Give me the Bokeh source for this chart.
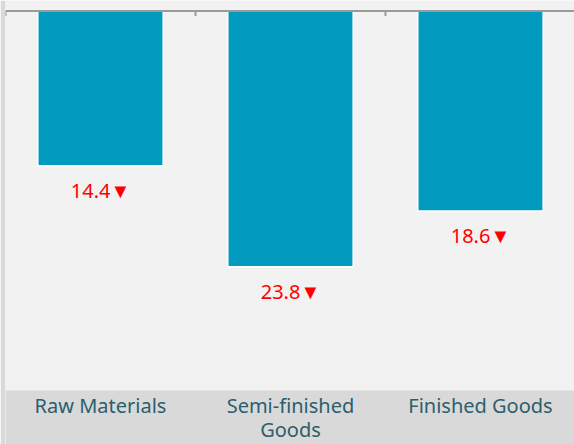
from bokeh.plotting import figure
from bokeh.models import Range1d, ColumnDataSource, Span, BoxAnnotation
from bokeh.embed import file_html
from bokeh.resources import INLINE

categories = ["Raw Materials", "Semi-finished Goods", "Finished Goods"]
tick_labels = ["Raw Materials", "Semi-finished\nGoods", "Finished Goods"]
values = [14.4, 23.8, 18.6]

y_top, y_plot_bottom, y_page_bottom = -0.98, 35.3, 40.33

xs = list(range(len(categories)))
labels = [f"{v}\u25BC" for v in values]
src = ColumnDataSource(dict(x=xs, value=values, label=labels, zero=[0] * len(values)))
cat_src = ColumnDataSource(dict(x=xs, y=[y_plot_bottom] * len(xs), name=tick_labels))

# category boundaries for the top axis ticks
bounds = [i - 0.5 for i in range(len(categories) + 1)]
tick_len = 0.47  # in y units (~5 px)
tick_src = ColumnDataSource(dict(x=bounds, y0=[0] * len(bounds), y1=[tick_len] * len(bounds)))

p = figure(width=574, height=444, output_backend="svg", toolbar_location=None,
           x_range=Range1d(-0.5, len(categories) - 0.505),
           y_range=Range1d(y_page_bottom, y_top),
           x_axis_location=None, y_axis_location=None,
           background_fill_color="#f2f2f2", border_fill_color="#d9d9d9",
           min_border_left=5, min_border_right=0, min_border_top=0,
           min_border_bottom=0)
p.outline_line_color = None
p.xgrid.visible = False
p.ygrid.visible = False

# darker band holding the category labels
p.add_layout(BoxAnnotation(bottom=y_plot_bottom, top=y_page_bottom, fill_color="#d9d9d9",
                           fill_alpha=1, line_color=None, level="underlay"))

p.vbar(x="x", top="value", bottom="zero", width=0.66, source=src,
       fill_color="#009bbf", line_color="white", line_width=1.5)

p.text(x="x", y="value", text="label", source=src, text_align="center",
       text_baseline="middle", y_offset=25, text_color="#ff0000",
       text_font_size="20px", text_font={"value": "Noto Sans"})

p.text(x="x", y="y", text="name", source=cat_src, text_align="center",
       text_baseline="top", y_offset=2, text_color="#2a5f6e",
       text_font_size="20px", text_line_height=0.88,
       text_font={"value": "Noto Sans"})

# top axis line with ticks at category boundaries
p.add_layout(Span(location=0, dimension="width", line_color="#9a9a9a", line_width=2))
p.segment(x0="x", y0="y0", x1="x", y1="y1", source=tick_src,
          line_color="#9a9a9a", line_width=2)

open("out.html", "w").write(file_html(p, INLINE))
